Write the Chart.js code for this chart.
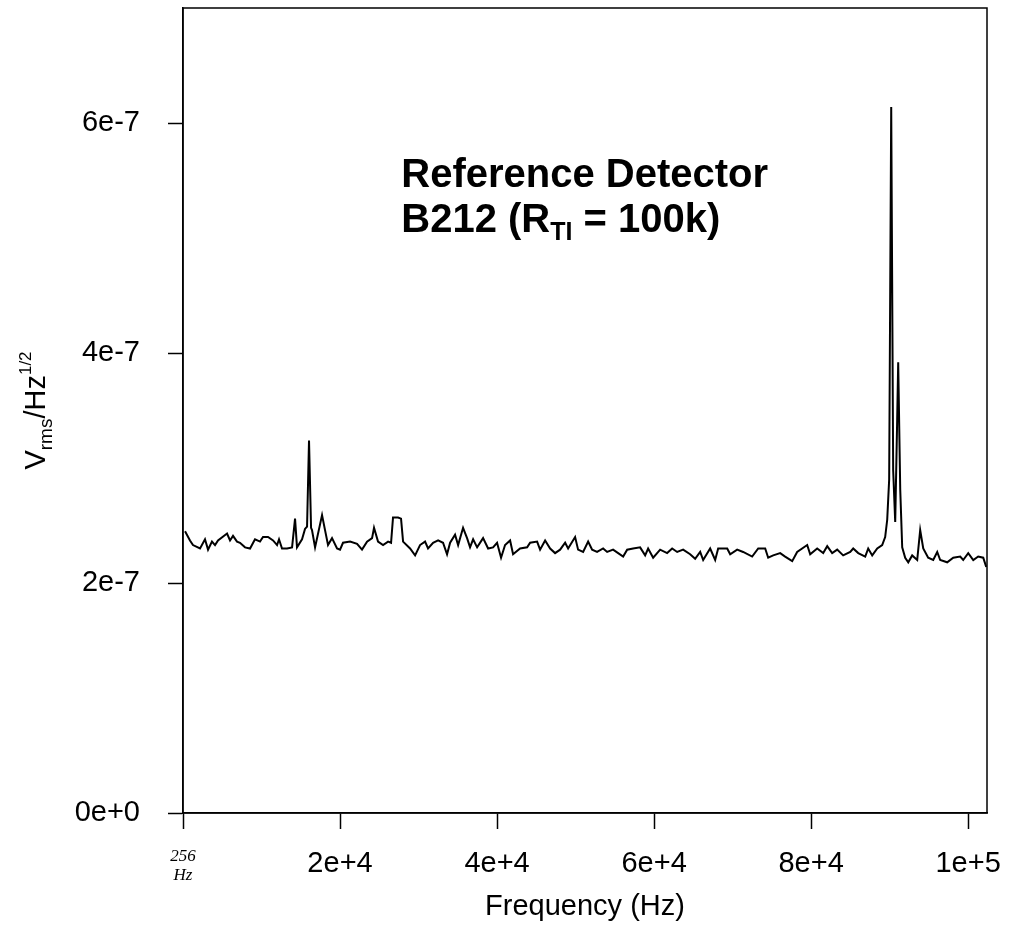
<!DOCTYPE html>
<html lang="en">
  <head>
    <meta charset="UTF-8" />
    <title>Reference Detector B212</title>
    <style>
      body { margin: 0; background: #fff; }
    </style>
  </head>
  <body>
    <canvas id="myChart" width="1012" height="938"></canvas>

    <script src="https://cdn.jsdelivr.net/npm/chart.js"></script>
    <script>
      // spectrum: frequency in kHz, noise in units of 1e-7 Vrms/sqrt(Hz)
      const freqKHz = [
        0.26, 0.89, 1.27, 2.17, 2.80, 3.19, 3.69, 4.08, 4.46, 5.61,
        5.99, 6.37, 6.88, 7.26, 7.90, 8.54, 9.17, 9.81, 10.19, 10.83,
        11.47, 11.98, 12.23, 12.61, 13.25, 13.89, 14.27, 14.52, 15.16, 15.54,
        15.80, 16.05, 16.31, 16.43, 16.82, 17.71, 18.09, 18.47, 18.98, 19.62,
        20.00, 20.38, 21.28, 22.17, 22.80, 23.44, 24.08, 24.33, 24.84, 25.48,
        26.12, 26.50, 26.75, 27.39, 27.77, 28.03, 28.92, 29.56, 30.19, 30.83,
        31.21, 31.85, 32.49, 33.12, 33.63, 34.02, 34.65, 35.04, 35.67, 36.18,
        36.56, 36.95, 37.46, 38.22, 38.86, 39.49, 40.00, 40.51, 41.02, 41.66,
        42.04, 42.93, 43.83, 44.21, 45.10, 45.48, 46.12, 46.76, 47.39, 48.03,
        48.67, 49.05, 49.94, 50.32, 50.96, 51.60, 52.11, 52.74, 53.51, 54.02,
        54.78, 55.42, 56.06, 56.57, 57.33, 58.22, 58.86, 59.24, 59.88, 60.77,
        61.66, 62.30, 62.94, 63.70, 64.59, 65.23, 65.87, 66.25, 67.14, 67.78,
        68.16, 69.31, 69.69, 70.58, 71.34, 72.49, 73.26, 74.15, 74.53, 75.17,
        76.06, 76.69, 77.59, 78.22, 79.50, 79.88, 80.77, 81.54, 82.05, 82.68,
        83.32, 84.08, 84.98, 85.36, 86.00, 86.89, 87.27, 87.78, 88.42, 89.05,
        89.43, 89.69, 89.94, 90.20, 90.45, 90.71, 90.96, 91.09, 91.35, 91.60,
        91.98, 92.37, 92.87, 93.51, 93.89, 94.28, 94.91, 95.55, 96.06, 96.44,
        97.33, 98.10, 98.99, 99.37, 100.01, 100.65, 101.28, 101.92, 102.30,
      ];
      const vrms = [
        2.45, 2.37, 2.33, 2.30, 2.38, 2.29, 2.36, 2.33, 2.37, 2.43,
        2.37, 2.41, 2.36, 2.35, 2.31, 2.30, 2.38, 2.36, 2.40, 2.40,
        2.37, 2.33, 2.38, 2.30, 2.30, 2.31, 2.56, 2.31, 2.38, 2.47,
        2.49, 3.24, 2.48, 2.46, 2.31, 2.59, 2.46, 2.33, 2.39, 2.30,
        2.29, 2.35, 2.36, 2.34, 2.29, 2.36, 2.39, 2.48, 2.36, 2.33,
        2.36, 2.35, 2.57, 2.57, 2.56, 2.36, 2.30, 2.24, 2.33, 2.36,
        2.30, 2.35, 2.37, 2.35, 2.25, 2.35, 2.42, 2.33, 2.48, 2.39,
        2.31, 2.38, 2.31, 2.39, 2.30, 2.31, 2.35, 2.22, 2.33, 2.37,
        2.25, 2.30, 2.31, 2.35, 2.36, 2.29, 2.37, 2.30, 2.26, 2.29,
        2.35, 2.30, 2.40, 2.29, 2.27, 2.36, 2.29, 2.27, 2.30, 2.27,
        2.29, 2.26, 2.23, 2.29, 2.30, 2.31, 2.24, 2.30, 2.22, 2.29,
        2.26, 2.30, 2.27, 2.29, 2.25, 2.21, 2.27, 2.20, 2.30, 2.20,
        2.30, 2.30, 2.25, 2.29, 2.27, 2.23, 2.30, 2.30, 2.22, 2.24,
        2.26, 2.23, 2.19, 2.27, 2.33, 2.25, 2.30, 2.26, 2.32, 2.26,
        2.29, 2.24, 2.27, 2.30, 2.26, 2.23, 2.30, 2.24, 2.30, 2.33,
        2.40, 2.55, 2.90, 6.14, 2.98, 2.53, 3.42, 3.92, 2.81, 2.31,
        2.22, 2.18, 2.24, 2.20, 2.46, 2.30, 2.22, 2.20, 2.27, 2.20,
        2.18, 2.22, 2.23, 2.20, 2.26, 2.20, 2.23, 2.22, 2.14,
      ];
      const xTicks = [0, 20000, 40000, 60000, 80000, 100000];
      const yTicks = [0, 2e-7, 4e-7, 6e-7];

      const FONT = "'Liberation Sans', Arial, Helvetica, sans-serif";

      const points = freqKHz.map((f, i) => ({ x: f * 1000, y: vrms[i] * 1e-7 }));

      // draws a run of text pieces (for sub/superscripts), left aligned at x
      const drawParts = (ctx, parts, x, y) => {
        let cx = x;
        parts.forEach((p) => {
          ctx.font = p.font;
          ctx.fillText(p.t, cx, y + (p.dy || 0));
          cx += ctx.measureText(p.t).width;
        });
        return cx - x;
      };
      const partsWidth = (ctx, parts) =>
        parts.reduce((w, p) => {
          ctx.font = p.font;
          return w + ctx.measureText(p.t).width;
        }, 0);

      const frame = {
        id: "frame",
        afterDraw(chart) {
          const { ctx, chartArea: a, scales } = chart;
          ctx.save();
          ctx.strokeStyle = "#000";
          ctx.lineWidth = 1.5;
          ctx.strokeRect(a.left, a.top, a.right - a.left, a.bottom - a.top);

          ctx.fillStyle = "#000";
          ctx.textBaseline = "alphabetic";
          ctx.textAlign = "left";

          // note inside the plot
          const nx = scales.x.getPixelForValue(27800);
          const ny1 = scales.y.getPixelForValue(5.44e-7);
          const ny2 = scales.y.getPixelForValue(5.05e-7);
          ctx.font = "bold 40px " + FONT;
          ctx.fillText("Reference Detector", nx, ny1);
          drawParts(ctx, [
            { t: "B212 (R", font: "bold 40px " + FONT },
            { t: "TI", font: "bold 25px " + FONT, dy: 8 },
            { t: " = 100k)", font: "bold 40px " + FONT },
          ], nx, ny2);

          // y axis title with subscript / superscript
          const yParts = [
            { t: "V", font: "29px " + FONT },
            { t: "rms", font: "19px " + FONT, dy: 7 },
            { t: "/Hz", font: "29px " + FONT },
            { t: "1/2", font: "17px " + FONT, dy: -14 },
          ];
          const w = partsWidth(ctx, yParts);
          ctx.translate(45, (a.top + a.bottom) / 2);
          ctx.rotate(-Math.PI / 2);
          drawParts(ctx, yParts, -w / 2, 0);
          ctx.restore();
        },
      };

      const ctx = document.getElementById("myChart");

      const myChart = new Chart(ctx, {
        type: "line",
        data: {
          datasets: [
            {
              data: points,
              borderColor: "#000",
              borderWidth: 2,
              pointRadius: 0,
              tension: 0,
            },
          ],
        },
        options: {
          responsive: false,
          devicePixelRatio: 1,
          animation: false,
          layout: { padding: { top: 8, right: 25, left: 0, bottom: 0 } },
          plugins: { legend: { display: false }, tooltip: { enabled: false } },
          scales: {
            x: {
              type: "linear",
              min: 0,
              max: 102400,
              afterFit: (s) => {
                s.height = 125;
                s.paddingLeft = 0;
                s.paddingRight = 0;
              },
              afterBuildTicks: (s) => { s.ticks = xTicks.map((v) => ({ value: v })); },
              grid: { drawOnChartArea: false, tickLength: 16, tickColor: "#000", tickWidth: 1.5 },
              border: { display: true, color: "#000", width: 1.5 },
              ticks: {
                color: "#000",
                padding: 18,
                maxRotation: 0,
                font: (c) =>
                  c.tick && c.tick.value === 0
                    ? { family: "'Liberation Serif', serif", style: "italic", size: 17, lineHeight: 1.1 }
                    : { family: FONT, size: 29 },
                callback: (v) => (v === 0 ? ["256", "Hz"] : Number(v).toExponential()),
              },
              title: {
                display: true,
                text: "Frequency (Hz)",
                color: "#000",
                font: { family: FONT, size: 29 },
                padding: { top: 0, bottom: 14 },
              },
            },
            y: {
              min: 0,
              max: 7e-7,
              afterFit: (s) => {
                s.width = 183;
                s.paddingTop = 0;
                s.paddingBottom = 0;
              },
              afterBuildTicks: (s) => { s.ticks = yTicks.map((v) => ({ value: v })); },
              grid: { drawOnChartArea: false, tickLength: 15, tickColor: "#000", tickWidth: 1.5 },
              border: { display: true, color: "#000", width: 1.5 },
              ticks: {
                color: "#000",
                padding: 28,
                font: { family: FONT, size: 29 },
                callback: (v) => Number(v).toExponential(),
              },
            },
          },
        },
        plugins: [frame],
      });
    </script>
  </body>
</html>
